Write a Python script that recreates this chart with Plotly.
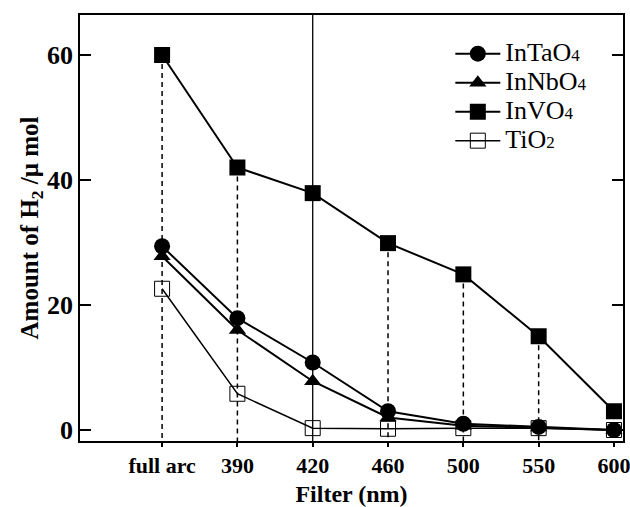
import plotly.graph_objects as go

categories = ["full arc", "390", "420", "460", "500", "550", "600"]
in_ta_o4 = [29.4, 17.9, 10.8, 3.0, 1.0, 0.5, 0.0]
in_nb_o4 = [27.8, 16.0, 7.8, 2.0, 0.7, 0.4, 0.0]
in_v_o4 = [60.0, 42.0, 37.9, 29.9, 24.9, 15.0, 3.0]
ti_o2 = [22.6, 5.8, 0.3, 0.2, 0.3, 0.3, 0.0]
dashed_at = ["full arc", "390", "460", "500", "550"]
solid_at = "420"

Y_MIN, Y_MAX = -1.76, 66.4
xi = list(range(len(categories)))
FONT = "Liberation Serif"


def legname(main, idx):
    return ('<span style="font-size:26px">' + main + '</span>'
            '<span style="font-size:17px">' + idx + '</span>')


fig = go.Figure()

# dashed drop lines from InVO4 points to the bottom axis
for c in dashed_at:
    i = categories.index(c)
    fig.add_trace(go.Scatter(x=[i, i], y=[in_v_o4[i], Y_MIN], mode="lines",
                             line=dict(color="black", width=1.5, dash="5px,4px"),
                             showlegend=False, hoverinfo="skip"))
# solid vertical line at 420 nm
i420 = categories.index(solid_at)
fig.add_trace(go.Scatter(x=[i420, i420], y=[Y_MIN, Y_MAX], mode="lines",
                         line=dict(color="black", width=1.3),
                         showlegend=False, hoverinfo="skip"))

fig.add_trace(go.Scatter(x=xi, y=in_ta_o4, mode="lines+markers", name=legname("InTaO", "4"),
                         line=dict(color="black", width=2),
                         marker=dict(symbol="circle", size=16, color="black")))
fig.add_trace(go.Scatter(x=xi, y=in_nb_o4, mode="lines+markers", name=legname("InNbO", "4"),
                         line=dict(color="black", width=2),
                         marker=dict(symbol="triangle-up", size=15, color="black")))
fig.add_trace(go.Scatter(x=xi, y=in_v_o4, mode="lines+markers", name=legname("InVO", "4"),
                         line=dict(color="black", width=2),
                         marker=dict(symbol="square", size=16, color="black")))
fig.add_trace(go.Scatter(x=xi, y=ti_o2, mode="lines+markers", name=legname("TiO", "2"),
                         line=dict(color="black", width=1.5),
                         marker=dict(symbol="square-open", size=15, color="black",
                                     line=dict(width=1))))

fig.update_layout(
    width=630, height=507,
    margin=dict(l=80, r=7, t=15, b=66),
    paper_bgcolor="white", plot_bgcolor="white",
    font=dict(family=FONT, color="black"),
    showlegend=True,
    legend=dict(x=0.682, y=0.955, xanchor="left", yanchor="top",
                bgcolor="rgba(0,0,0,0)", font=dict(family=FONT, size=20),
                tracegroupgap=0, itemwidth=45),
    xaxis=dict(range=[-1.09, 6.12], tickmode="array", tickvals=xi, ticktext=categories,
               automargin=False, ticklabeloverflow="allow",
               showgrid=False, zeroline=False, showline=True, linecolor="black",
               linewidth=1.5, mirror=True, ticks="outside", ticklen=4,
               tickcolor="black", tickwidth=1.5, ticklabelstandoff=0,
               tickfont=dict(family=FONT, size=22, color="black", weight="bold"),
               title=dict(text="Filter (nm)",
                          font=dict(family=FONT, size=24, weight="bold"),
                          standoff=14)),
    yaxis=dict(range=[Y_MIN, Y_MAX], tickvals=[0, 20, 40, 60],
               automargin=False,
               showgrid=False, zeroline=False, showline=True, linecolor="black",
               linewidth=1.5, mirror="ticks", ticks="inside", ticklen=11,
               tickcolor="black", tickwidth=1.5,
               tickfont=dict(family=FONT, size=26, color="black", weight="bold"),
               title=dict(text="Amount of H<sub>2</sub> /\u03bc mol",
                          font=dict(family=FONT, size=25, weight="bold"), standoff=0)),
)

fig.write_html("out.html")
